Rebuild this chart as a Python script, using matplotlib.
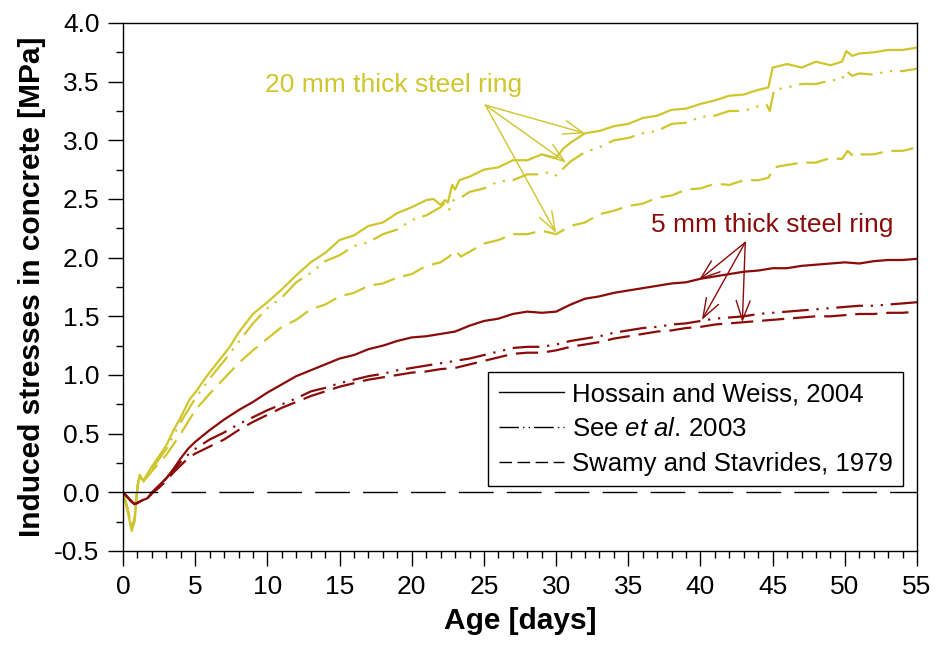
import matplotlib
matplotlib.use('AGG')

import numpy as np
import matplotlib.pyplot as plt
from matplotlib.ticker import MultipleLocator, FormatStrFormatter

plt.rcParams['font.family'] = ['Liberation Sans', 'DejaVu Sans']
plt.rcParams['mathtext.fontset'] = 'custom'
plt.rcParams['mathtext.rm'] = 'Liberation Sans'
plt.rcParams['mathtext.it'] = 'Liberation Sans:italic'
plt.rcParams['axes.unicode_minus'] = False

# 20 mm thick steel ring (yellow)
days_20_hw = [0, 0.3, 0.6, 0.8, 1.0, 1.15, 1.4, 1.7, 2.0, 2.5, 3.0, 3.5, 4.0, 4.6, 5.0, 5.8,
              6.5, 7.4, 8.0, 9.0, 10, 11, 12, 13, 14, 15, 16, 17, 18, 19, 20, 21, 21.5,
              22.0, 22.3, 22.5, 22.8, 23.0, 23.3, 24, 25, 26, 27, 28, 29, 30, 30.5, 31, 32,
              33, 34, 35, 36, 37, 38, 39, 40, 41, 42, 43, 44, 44.7, 45.0, 46, 47, 48, 49,
              49.8, 50.1, 50.5, 51, 52, 53, 54, 55]
s_20_hw = [0.0, -0.15, -0.33, -0.25, 0.05, 0.15, 0.10, 0.16, 0.22, 0.31, 0.40, 0.53, 0.64,
           0.79, 0.85, 0.99, 1.10, 1.24, 1.36, 1.52, 1.62, 1.73, 1.85, 1.96, 2.04, 2.15,
           2.19, 2.27, 2.30, 2.38, 2.43, 2.49, 2.50, 2.45, 2.49, 2.47, 2.62, 2.58, 2.66,
           2.69, 2.75, 2.77, 2.83, 2.83, 2.88, 2.85, 2.93, 2.98, 3.06, 3.08, 3.12, 3.14,
           3.19, 3.21, 3.26, 3.27, 3.31, 3.34, 3.38, 3.39, 3.43, 3.45, 3.62, 3.65, 3.62,
           3.67, 3.64, 3.67, 3.76, 3.72, 3.74, 3.75, 3.77, 3.77, 3.79]

days_20_see = [0, 0.3, 0.6, 0.8, 1.0, 1.15, 1.4, 2.0, 3.0, 4.0, 5.0, 6.0, 7.0, 8.0, 9.0, 10,
               11, 12, 13, 14, 15, 16, 17, 18, 19, 20, 21, 22, 22.3, 22.6, 22.9, 23.5, 24,
               25, 26, 27, 28, 29, 29.5, 30, 30.5, 31, 32, 33, 34, 35, 36, 37, 38, 39, 40,
               41, 42, 43, 44, 44.6, 44.8, 45.1, 46, 47, 48, 49, 49.8, 50.1, 50.5, 51, 52,
               53, 54, 55]
s_20_see = [0.0, -0.13, -0.30, -0.22, 0.05, 0.13, 0.09, 0.20, 0.37, 0.60, 0.80, 0.97, 1.12,
            1.28, 1.44, 1.57, 1.66, 1.79, 1.87, 1.97, 2.02, 2.10, 2.13, 2.20, 2.24, 2.32,
            2.36, 2.43, 2.47, 2.41, 2.49, 2.52, 2.56, 2.59, 2.65, 2.66, 2.71, 2.71, 2.73,
            2.70, 2.76, 2.82, 2.90, 2.94, 3.00, 3.02, 3.06, 3.08, 3.14, 3.15, 3.20, 3.21,
            3.25, 3.25, 3.29, 3.30, 3.25, 3.43, 3.45, 3.48, 3.48, 3.51, 3.52, 3.59, 3.55,
            3.57, 3.56, 3.59, 3.59, 3.61]

days_20_sw = [0, 0.3, 0.6, 0.8, 1.0, 1.15, 1.4, 2.0, 3.0, 4.0, 5.0, 6.0, 7.0, 8.0, 9.0, 10,
              11, 12, 13, 14, 15, 16, 17, 18, 19, 20, 21, 22, 22.6, 23.0, 23.4, 24, 25, 26,
              27, 28, 29, 30, 31, 32, 33, 34, 35, 36, 37, 38, 39, 40, 41, 42, 43, 44, 44.7,
              45.1, 46, 47, 48, 49, 49.8, 50.2, 50.6, 51, 52, 53, 54, 55]
s_20_sw = [0.0, -0.13, -0.30, -0.22, 0.05, 0.13, 0.09, 0.18, 0.32, 0.50, 0.70, 0.84, 0.97,
           1.10, 1.21, 1.31, 1.41, 1.47, 1.56, 1.60, 1.67, 1.70, 1.76, 1.78, 1.83, 1.86,
           1.93, 1.96, 2.01, 2.06, 2.01, 2.05, 2.12, 2.15, 2.20, 2.20, 2.23, 2.20, 2.27,
           2.30, 2.37, 2.40, 2.44, 2.46, 2.51, 2.53, 2.58, 2.59, 2.63, 2.62, 2.66, 2.66,
           2.68, 2.77, 2.79, 2.81, 2.81, 2.85, 2.84, 2.91, 2.86, 2.88, 2.88, 2.91, 2.91, 2.94]

# 5 mm thick steel ring (dark red)
days_5 = [0, 0.3, 0.6, 0.8, 1.0, 1.3, 1.7, 2.0, 2.5, 3.0, 3.5, 4.0, 4.5, 5.0, 6.0, 7.0, 8.0,
          9.0, 10, 11, 12, 13, 14, 15, 16, 17, 18, 19, 20, 21, 22, 23, 24, 25, 26, 27, 28,
          29, 30, 31, 32, 33, 34, 35, 36, 37, 38, 39, 40, 41, 42, 43, 44, 45, 46, 47, 48,
          49, 50, 51, 52, 53, 54, 55]
s_5_hw = [0.0, -0.04, -0.08, -0.10, -0.09, -0.07, -0.05, 0.00, 0.06, 0.12, 0.20, 0.29, 0.37,
          0.43, 0.53, 0.62, 0.70, 0.77, 0.85, 0.92, 0.99, 1.04, 1.09, 1.14, 1.17, 1.22, 1.25,
          1.29, 1.32, 1.33, 1.35, 1.37, 1.42, 1.46, 1.48, 1.52, 1.54, 1.53, 1.54, 1.60, 1.65,
          1.67, 1.70, 1.72, 1.74, 1.76, 1.78, 1.79, 1.82, 1.84, 1.86, 1.88, 1.89, 1.91, 1.91,
          1.93, 1.94, 1.95, 1.96, 1.95, 1.97, 1.98, 1.98, 1.99]
s_5_see = [0.0, -0.04, -0.08, -0.10, -0.09, -0.07, -0.05, -0.01, 0.05, 0.12, 0.19, 0.26,
           0.32, 0.37, 0.45, 0.51, 0.58, 0.64, 0.70, 0.75, 0.80, 0.86, 0.89, 0.93, 0.96,
           0.99, 1.01, 1.04, 1.06, 1.08, 1.10, 1.12, 1.14, 1.17, 1.20, 1.23, 1.24, 1.24,
           1.26, 1.29, 1.31, 1.33, 1.36, 1.38, 1.40, 1.41, 1.43, 1.44, 1.46, 1.48, 1.49,
           1.50, 1.52, 1.53, 1.54, 1.55, 1.56, 1.57, 1.58, 1.59, 1.59, 1.60, 1.61, 1.62]
s_5_sw = [0.0, -0.04, -0.08, -0.10, -0.09, -0.07, -0.05, -0.01, 0.04, 0.10, 0.17, 0.23,
          0.29, 0.33, 0.39, 0.45, 0.53, 0.60, 0.66, 0.72, 0.77, 0.82, 0.86, 0.90, 0.93,
          0.96, 0.98, 1.00, 1.02, 1.03, 1.05, 1.06, 1.09, 1.12, 1.15, 1.18, 1.19, 1.19,
          1.21, 1.24, 1.26, 1.28, 1.31, 1.33, 1.35, 1.37, 1.38, 1.40, 1.41, 1.43, 1.44,
          1.45, 1.46, 1.47, 1.48, 1.49, 1.50, 1.50, 1.51, 1.52, 1.52, 1.53, 1.53, 1.54]

labels = ['Hossain and Weiss, 2004', 'See $et\\ al.\\,$2003', 'Swamy and Stavrides, 1979']

yellow = '#CFC52C'
darkred = '#8B0A0A'

dash_see = (12, 3.5, 1, 3.5, 1, 3.5)
dash_sw = (10, 4)

fig = plt.figure(figsize=(9.37, 6.64), dpi=100)
ax = fig.add_axes([0.1313, 0.1702, 0.8474, 0.7952])

lw = 1.6
ax.plot(days_20_hw, s_20_hw, color=yellow, lw=lw, solid_joinstyle='round')
ax.plot(days_20_see, s_20_see, color=yellow, lw=lw, dashes=dash_see)
ax.plot(days_20_sw, s_20_sw, color=yellow, lw=lw, dashes=dash_sw)
ax.plot(days_5, s_5_hw, color=darkred, lw=lw, solid_joinstyle='round')
ax.plot(days_5, s_5_see, color=darkred, lw=lw, dashes=dash_see)
ax.plot(days_5, s_5_sw, color=darkred, lw=lw, dashes=dash_sw)

# zero line
ax.plot([0, 55], [0, 0], color='black', lw=1, dashes=(25, 9.5))

# legend entries (black)
h1, = ax.plot([], [], color='black', lw=1)
h2, = ax.plot([], [], color='black', lw=1, dashes=(14, 3, 1, 3, 1, 3))
h3, = ax.plot([], [], color='black', lw=1, dashes=(9, 4))
leg = ax.legend([h1, h2, h3], labels, loc='upper left', bbox_to_anchor=(0.46, 0.339),
                fontsize=18.5, handlelength=2.55, handletextpad=0.3, labelspacing=0.42,
                borderpad=0.4, borderaxespad=0, fancybox=False, framealpha=1)
leg.get_frame().set_edgecolor('black')
leg.get_frame().set_linewidth(1)

# annotations
ax.text(9.8, 3.47, '20 mm thick steel ring', color=yellow, fontsize=19, va='center')
for tip in [(32.0, 3.06), (30.7, 2.81), (30.0, 2.21)]:
    ax.annotate('', xy=tip, xytext=(25.1, 3.30),
                arrowprops=dict(arrowstyle='->,head_length=0.7,head_width=0.25',
                                color=yellow, lw=1, shrinkA=0, shrinkB=0,
                                mutation_scale=20))
ax.text(36.6, 2.28, '5 mm thick steel ring', color=darkred, fontsize=19, va='center')
for tip in [(39.9, 1.81), (40.1, 1.47), (42.9, 1.45)]:
    ax.annotate('', xy=tip, xytext=(43.1, 2.13),
                arrowprops=dict(arrowstyle='->,head_length=0.7,head_width=0.25',
                                color=darkred, lw=1, shrinkA=0, shrinkB=0,
                                mutation_scale=20))

ax.set_xlim(0, 55)
ax.set_ylim(-0.5, 4.0)
ax.xaxis.set_major_locator(MultipleLocator(5))
ax.xaxis.set_minor_locator(MultipleLocator(1))
ax.yaxis.set_major_locator(MultipleLocator(0.5))
ax.yaxis.set_minor_locator(MultipleLocator(0.25))
ax.yaxis.set_major_formatter(FormatStrFormatter('%.1f'))
ax.tick_params(which='major', direction='out', length=11, width=1, labelsize=19, pad=6)
ax.tick_params(which='minor', direction='out', length=5, width=1)
for sp in ax.spines.values():
    sp.set_linewidth(1)

ax.set_xlabel('Age [days]', fontsize=21.5, fontweight='bold', labelpad=6)
ax.set_ylabel('Induced stresses in concrete [MPa]', fontsize=21.5, fontweight='bold', labelpad=6)

fig.savefig('out.png', dpi=100)
